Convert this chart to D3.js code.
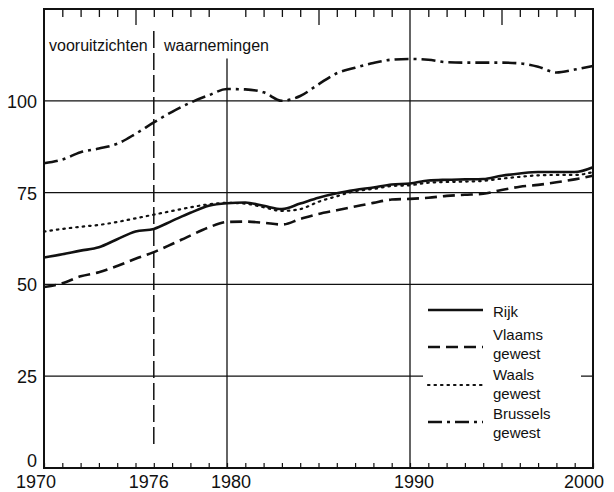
<!doctype html>
<html lang="nl">
	<head>
		<meta charset="UTF-8" />
		<title>Vooruitzichten en waarnemingen</title>
		<script src="https://d3js.org/d3.v7.min.js"></script>
		<style>
			body {
				margin: 0;
				background: #fff;
			}
			svg {
				font-family: 'Liberation Sans', Arial, sans-serif;
			}
			.grid {
				stroke: #111;
				stroke-width: 1.3px;
			}
			.serie {
				fill: none;
				stroke: #111;
				stroke-linejoin: round;
			}
		</style>
	</head>
	<body>
		<svg width="614" height="492"></svg>
		<script>
			const years = d3.range(1970, 2001)
			const rijk = [57.3, 58.2, 59.2, 60.1, 62.3, 64.4, 65.1, 67.3, 69.5, 71.4, 72.1, 72.3, 71.4, 70.5, 72.0, 73.6, 74.8, 75.7, 76.4, 77.2, 77.5, 78.3, 78.5, 78.6, 78.7, 79.6, 80.2, 80.6, 80.6, 80.6, 81.9]
			const vlaams = [49.3, 50.3, 52.2, 53.3, 55.0, 57.0, 58.8, 61.0, 63.3, 65.5, 67.0, 67.1, 66.8, 66.3, 67.8, 69.2, 70.2, 71.2, 72.2, 73.1, 73.3, 73.6, 74.1, 74.4, 74.7, 75.7, 76.6, 77.1, 77.8, 78.6, 79.6]
			const waals = [64.4, 65.1, 65.7, 66.2, 67.0, 68.0, 69.0, 70.0, 71.0, 71.8, 72.2, 72.0, 71.0, 70.0, 70.5, 72.5, 74.0, 75.4, 76.0, 76.8, 77.0, 77.7, 77.9, 78.0, 78.2, 78.8, 79.3, 79.7, 79.8, 79.8, 80.6]
			const brussel = [83.0, 84.0, 86.0, 87.0, 88.3, 91.0, 94.1, 97.0, 99.5, 101.5, 103.2, 103.1, 102.3, 100.0, 101.3, 104.5, 107.5, 109.0, 110.3, 111.2, 111.4, 111.2, 110.5, 110.4, 110.4, 110.4, 110.2, 109.3, 107.7, 108.5, 109.5]
			const yTicks = [0, 25, 50, 75, 100]
			const xLabels = [1970, 1976, 1980, 1990, 2000]

			const series = [
				{ naam: ['Rijk'], values: rijk, dash: null, width: 2.6 },
				{ naam: ['Vlaams', 'gewest'], values: vlaams, dash: '12,6', width: 2.6 },
				{ naam: ['Waals', 'gewest'], values: waals, dash: '1.5,5', width: 2.2 },
				{ naam: ['Brussels', 'gewest'], values: brussel, dash: '14,5,3,5', width: 2.6 }
			]

			const svg = d3.select('svg')
			const x = d3.scaleLinear().domain([1970, 2000]).range([44, 593])
			const y = d3.scaleLinear().domain([0, 125]).range([468, 9])

			// horizontale rasterlijnen
			svg.append('g')
				.selectAll('line')
				.data(yTicks.filter((d) => d > 0))
				.join('line')
				.attr('class', 'grid')
				.attr('x1', x(1970))
				.attr('x2', x(2000))
				.attr('y1', (d) => y(d))
				.attr('y2', (d) => y(d))

			// verticale lijnen 1980 en 1990
			svg.append('line')
				.attr('class', 'grid')
				.attr('x1', x(1980))
				.attr('x2', x(1980))
				.attr('y1', y(111.5))
				.attr('y2', y(0))
			svg.append('line')
				.attr('class', 'grid')
				.attr('x1', x(1990))
				.attr('x2', x(1990))
				.attr('y1', y(125))
				.attr('y2', y(0))

			// scheiding vooruitzichten / waarnemingen
			svg.append('line')
				.attr('x1', x(1976))
				.attr('x2', x(1976))
				.attr('y1', y(119))
				.attr('y2', y(5.5))
				.attr('stroke', '#111')
				.attr('stroke-width', 1.5)
				.attr('stroke-dasharray', '17,5')

			// kader
			svg.append('rect')
				.attr('x', x(1970))
				.attr('y', y(125))
				.attr('width', x(2000) - x(1970))
				.attr('height', y(0) - y(125))
				.attr('fill', 'none')
				.attr('stroke', '#111')
				.attr('stroke-width', 2)

			// tikken boven (naar binnen)
			const topAxis = svg.append('g').attr('transform', `translate(0,${y(125)})`)
			topAxis.call(d3.axisTop(x).tickValues(years.filter((d) => d % 5 !== 0)).tickSize(-8).tickFormat(''))
			topAxis.append('g').call(d3.axisTop(x).tickValues([1975, 1985, 1995]).tickSize(-16).tickFormat(''))
			topAxis.selectAll('.domain').remove()
			topAxis.selectAll('line').attr('stroke', '#111').attr('stroke-width', 1.3)

			// tikken onder (naar binnen)
			const bottomAxis = svg.append('g').attr('transform', `translate(0,${y(0)})`)
			bottomAxis.call(d3.axisBottom(x).tickValues(years).tickSize(-5).tickFormat(''))
			bottomAxis.selectAll('.domain').remove()
			bottomAxis.selectAll('line').attr('stroke', '#111').attr('stroke-width', 1.2)

			// aslabels
			svg.append('g')
				.selectAll('text')
				.data(yTicks)
				.join('text')
				.attr('x', 37)
				.attr('y', (d) => (d === 0 ? y(d) - 1 : y(d) + 7))
				.attr('text-anchor', 'end')
				.attr('font-size', 18)
				.attr('fill', '#111')
				.text((d) => d)

			const xShift = { 1970: -8, 1976: -5, 1980: 4, 1990: 4, 2000: -9 }
			svg.append('g')
				.selectAll('text')
				.data(xLabels)
				.join('text')
				.attr('x', (d) => x(d) + xShift[d])
				.attr('y', 488)
				.attr('text-anchor', 'middle')
				.attr('font-size', 18)
				.attr('fill', '#111')
				.text((d) => d)

			svg.append('text')
				.attr('x', 49)
				.attr('y', 51)
				.attr('font-size', 16)
				.attr('fill', '#111')
				.text('vooruitzichten')
			svg.append('text')
				.attr('x', 164)
				.attr('y', 51)
				.attr('font-size', 16)
				.attr('fill', '#111')
				.text('waarnemingen')

			// reeksen
			const line = d3
				.line()
				.x((d, i) => x(years[i]))
				.y((d) => y(d))
				.curve(d3.curveMonotoneX)

			svg.append('g')
				.selectAll('path')
				.data(series)
				.join('path')
				.attr('class', 'serie')
				.attr('d', (d) => line(d.values))
				.attr('stroke-width', (d) => d.width)
				.attr('stroke-dasharray', (d) => d.dash)
				.attr('stroke-linecap', (d) => (d.dash === '1.5,5' ? 'round' : 'butt'))

			// legenda
			const legend = svg.append('g')
			legend.append('rect')
				.attr('x', 423)
				.attr('y', 292)
				.attr('width', 158)
				.attr('height', 154)
				.attr('fill', '#fff')

			const lineY = [310, 347, 385, 422]
			const textY = [[317], [340, 359], [380, 399], [419, 438]]
			series.forEach((s, i) => {
				legend.append('line')
					.attr('x1', 428)
					.attr('x2', 483)
					.attr('y1', lineY[i])
					.attr('y2', lineY[i])
					.attr('stroke', '#111')
					.attr('stroke-width', s.width)
					.attr('stroke-dasharray', s.dash)
					.attr('stroke-linecap', s.dash === '1.5,5' ? 'round' : 'butt')
				s.naam.forEach((t, j) => {
					legend.append('text')
						.attr('x', 493)
						.attr('y', textY[i][j])
						.attr('font-size', 15)
						.attr('fill', '#111')
						.text(t)
				})
			})
		</script>
	</body>
</html>
